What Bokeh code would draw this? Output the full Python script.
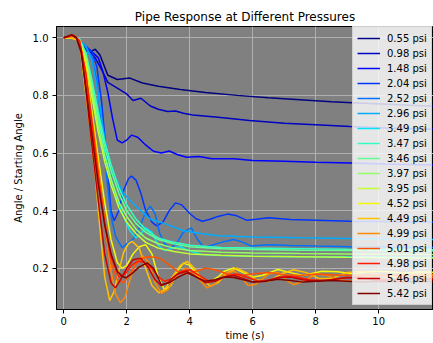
from bokeh.plotting import figure
from bokeh.models import Legend, LegendItem, FixedTicker
from bokeh.embed import file_html
from bokeh.resources import INLINE

# ---------------- data ----------------
pressure_labels = ["0.55 psi", "0.98 psi", "1.48 psi", "2.04 psi", "2.52 psi", "2.96 psi",
                   "3.49 psi", "3.47 psi", "3.46 psi", "3.97 psi", "3.95 psi", "4.52 psi",
                   "4.49 psi", "4.99 psi", "5.01 psi", "4.98 psi", "5.46 psi", "5.42 psi"]

x_ticks = [0, 2, 4, 6, 8, 10]
y_ticks = [0.2, 0.4, 0.6, 0.8, 1.0]
y_tick_labels = ["0.2", "0.4", "0.6", "0.8", "1.0"]

t_055 = [0, 0.3, 0.5, 0.7, 0.85, 1.0, 1.15, 1.4, 1.7, 2.1, 2.5, 3.0, 3.7, 4.5, 5.5, 6.5, 7.5, 8.5, 9.5, 10.5, 11.8]
v_055 = [1.0, 1.0, 0.99, 0.955, 0.952, 0.96, 0.94, 0.87, 0.855, 0.86, 0.843, 0.832, 0.82, 0.81, 0.8, 0.792, 0.785, 0.778, 0.773, 0.768, 0.762]

t_098 = [0, 0.3, 0.5, 0.7, 0.85, 1.0, 1.2, 1.4, 1.7, 2.0, 2.2, 2.45, 2.75, 3.0, 3.3, 3.55, 3.8, 4.1, 4.9, 5.9, 7.0, 8.0, 9.1, 10.2, 11.8]
v_098 = [1.0, 1.0, 0.99, 0.96, 0.95, 0.93, 0.89, 0.845, 0.825, 0.805, 0.782, 0.79, 0.763, 0.752, 0.744, 0.746, 0.738, 0.732, 0.724, 0.713, 0.703, 0.698, 0.692, 0.687, 0.682]

t_148 = [0, 0.3, 0.5, 0.7, 0.9, 1.1, 1.25, 1.4, 1.55, 1.7, 1.85, 2.0, 2.15, 2.35, 2.6, 2.85, 3.1, 3.35, 3.6, 3.9, 4.3, 4.7, 5.4, 6.0, 7.0, 8.0, 9.1, 10.2, 11.8]
v_148 = [1.0, 1.0, 0.99, 0.97, 0.95, 0.93, 0.88, 0.81, 0.72, 0.645, 0.635, 0.645, 0.662, 0.655, 0.628, 0.606, 0.6, 0.607, 0.595, 0.585, 0.588, 0.58, 0.58, 0.574, 0.571, 0.568, 0.565, 0.562, 0.558]

t_204 = [0, 0.3, 0.5, 0.7, 0.9, 1.05, 1.2, 1.35, 1.5, 1.6, 1.75, 1.9, 2.05, 2.15, 2.3, 2.45, 2.6, 2.8, 2.95, 3.15, 3.35, 3.55, 3.75, 4.0, 4.2, 4.4, 4.65, 4.9, 5.2, 5.5, 5.8, 6.1, 6.5, 7.2, 8.0, 9.1, 10.2, 11.8]
v_204 = [1.0, 1.0, 0.99, 0.97, 0.95, 0.9, 0.78, 0.6, 0.4, 0.365, 0.4, 0.47, 0.51, 0.52, 0.505, 0.46, 0.4, 0.36, 0.347, 0.36, 0.4, 0.427, 0.42, 0.39, 0.372, 0.363, 0.37, 0.38, 0.388, 0.382, 0.367, 0.37, 0.375, 0.369, 0.367, 0.363, 0.362, 0.36]

t_252 = [0, 0.3, 0.5, 0.7, 0.9, 1.05, 1.2, 1.35, 1.5, 1.65, 1.85, 2.0, 2.2, 2.4, 2.6, 2.75, 2.9, 3.05, 3.2, 3.4, 3.6, 3.8, 4.05, 4.25, 4.45, 4.7, 5.0, 5.4, 5.7, 5.95, 6.25, 6.6, 7.2, 8.0, 9.1, 10.2, 11.8]
v_252 = [1.0, 1.0, 0.99, 0.97, 0.93, 0.85, 0.7, 0.53, 0.38, 0.31, 0.272, 0.285, 0.3, 0.34, 0.395, 0.415, 0.39, 0.32, 0.285, 0.27, 0.29, 0.325, 0.34, 0.3, 0.272, 0.28, 0.29, 0.3, 0.29, 0.277, 0.28, 0.282, 0.279, 0.277, 0.275, 0.274, 0.272]

t_296 = [0, 0.3, 0.5, 0.7, 0.9, 1.1, 1.3, 1.45, 1.6, 1.9, 2.2, 2.45, 2.75, 3.2, 3.8, 4.4, 4.9, 6.0, 7.5, 9.1, 10.5, 11.8]
v_296 = [1.0, 1.0, 0.99, 0.97, 0.92, 0.8, 0.65, 0.57, 0.52, 0.46, 0.425, 0.4, 0.37, 0.355, 0.33, 0.32, 0.313, 0.309, 0.306, 0.303, 0.301, 0.3]

t_349 = [0, 0.3, 0.5, 0.7, 0.9, 1.1, 1.3, 1.5, 1.7, 1.9, 2.1, 2.3, 2.45, 2.6, 2.8, 3.0, 3.2, 3.45, 3.7, 4.0, 4.4, 5.0, 6.0, 7.5, 9.0, 10.5, 11.8]
v_349 = [1.0, 1.0, 0.995, 0.94, 0.83, 0.71, 0.6, 0.51, 0.44, 0.38, 0.33, 0.305, 0.32, 0.34, 0.325, 0.28, 0.262, 0.27, 0.275, 0.26, 0.248, 0.244, 0.242, 0.24, 0.24, 0.239, 0.238]

t_347 = [0, 0.3, 0.5, 0.7, 0.9, 1.1, 1.3, 1.5, 1.75, 2.0, 2.3, 2.6, 3.0, 3.5, 4.0, 5.0, 6.0, 7.5, 9.0, 10.5, 11.8]
v_347 = [1.0, 1.0, 0.995, 0.95, 0.85, 0.74, 0.64, 0.56, 0.48, 0.42, 0.37, 0.335, 0.305, 0.29, 0.28, 0.272, 0.27, 0.268, 0.266, 0.265, 0.264]

t_346 = [0, 0.3, 0.5, 0.7, 0.9, 1.1, 1.3, 1.5, 1.75, 2.0, 2.3, 2.6, 3.0, 3.5, 4.0, 5.0, 6.0, 7.5, 9.0, 10.5, 11.8]
v_346 = [1.0, 1.0, 0.995, 0.94, 0.83, 0.72, 0.62, 0.54, 0.46, 0.40, 0.355, 0.325, 0.3, 0.285, 0.275, 0.268, 0.265, 0.263, 0.262, 0.261, 0.26]

t_397 = [0, 0.3, 0.5, 0.7, 0.9, 1.1, 1.3, 1.5, 1.75, 2.0, 2.3, 2.6, 3.0, 3.5, 4.0, 5.0, 6.0, 7.5, 9.0, 10.5, 11.8]
v_397 = [1.0, 1.0, 0.99, 0.93, 0.81, 0.69, 0.59, 0.51, 0.43, 0.38, 0.335, 0.305, 0.285, 0.27, 0.262, 0.256, 0.253, 0.251, 0.25, 0.249, 0.248]

t_395 = [0, 0.3, 0.5, 0.7, 0.9, 1.1, 1.3, 1.5, 1.75, 2.0, 2.3, 2.6, 3.0, 3.5, 4.0, 5.0, 6.0, 7.5, 9.0, 10.5, 11.8]
v_395 = [1.0, 1.0, 0.99, 0.92, 0.79, 0.67, 0.57, 0.49, 0.41, 0.36, 0.32, 0.29, 0.27, 0.258, 0.25, 0.245, 0.242, 0.24, 0.238, 0.237, 0.236]

t_452 = [0, 0.3, 0.5, 0.7, 0.9, 1.1, 1.3, 1.5, 1.7, 1.85, 2.0, 2.2, 2.4, 2.6, 2.8, 3.0, 3.2, 3.4, 3.6, 3.8, 4.0, 4.3, 4.6, 4.9, 5.1, 5.4, 5.7, 6.0, 6.3, 6.8, 7.2, 7.6, 8.2, 8.7, 9.2, 9.8, 10.3, 10.8, 11.3, 11.8]
v_452 = [1.0, 1.0, 0.99, 0.9, 0.74, 0.58, 0.43, 0.3, 0.22, 0.2, 0.21, 0.25, 0.275, 0.282, 0.25, 0.17, 0.125, 0.14, 0.19, 0.218, 0.21, 0.17, 0.15, 0.17, 0.19, 0.201, 0.185, 0.17, 0.175, 0.196, 0.185, 0.175, 0.19, 0.188, 0.18, 0.19, 0.188, 0.183, 0.188, 0.186]

t_449 = [0, 0.2, 0.35, 0.5, 0.65, 0.83, 1.0, 1.14, 1.3, 1.46, 1.6, 1.75, 1.9, 2.05, 2.17, 2.4, 2.6, 2.8, 3.02, 3.2, 3.45, 3.7, 3.92, 4.15, 4.4, 4.66, 4.9, 5.2, 5.5, 5.8, 6.1, 6.5, 6.9, 7.3, 7.7, 8.1, 8.5, 9.0, 9.5, 10.0, 10.5, 11.0, 11.8]
v_449 = [1.0, 1.0, 0.995, 0.99, 0.85, 0.69, 0.52, 0.35, 0.17, 0.088, 0.12, 0.19, 0.255, 0.285, 0.294, 0.27, 0.2, 0.14, 0.115, 0.125, 0.17, 0.21, 0.224, 0.2, 0.16, 0.138, 0.15, 0.185, 0.2, 0.185, 0.16, 0.155, 0.18, 0.195, 0.185, 0.165, 0.165, 0.185, 0.19, 0.178, 0.17, 0.18, 0.178]

t_499 = [0, 0.3, 0.5, 0.7, 0.9, 1.1, 1.3, 1.5, 1.65, 1.8, 1.95, 2.1, 2.3, 2.5, 2.7, 2.9, 3.1, 3.3, 3.55, 3.85, 4.1, 4.35, 4.55, 4.8, 5.1, 5.4, 5.6, 5.85, 6.1, 6.5, 6.8, 7.05, 7.3, 7.6, 8.0, 8.4, 8.7, 9.1, 9.5, 10.0, 10.5, 11.0, 11.8]
v_499 = [1.0, 1.005, 0.99, 0.88, 0.72, 0.55, 0.36, 0.19, 0.11, 0.08, 0.1, 0.16, 0.22, 0.245, 0.22, 0.15, 0.113, 0.125, 0.17, 0.2, 0.19, 0.155, 0.132, 0.145, 0.18, 0.19, 0.175, 0.14, 0.145, 0.18, 0.185, 0.16, 0.143, 0.155, 0.18, 0.175, 0.16, 0.155, 0.17, 0.175, 0.165, 0.168, 0.17]

t_501 = [0, 0.3, 0.5, 0.7, 0.9, 1.1, 1.3, 1.5, 1.7, 1.9, 2.1, 2.3, 2.5, 2.7, 2.9, 3.1, 3.3, 3.6, 3.9, 4.2, 4.5, 4.8, 5.2, 5.6, 6.0, 6.5, 7.0, 7.5, 8.0, 8.5, 9.0, 9.5, 10.0, 10.5, 11.0, 11.8]
v_501 = [1.0, 1.005, 0.99, 0.87, 0.7, 0.52, 0.35, 0.22, 0.16, 0.15, 0.18, 0.215, 0.235, 0.24, 0.238, 0.232, 0.215, 0.19, 0.18, 0.19, 0.2, 0.195, 0.18, 0.175, 0.18, 0.185, 0.178, 0.175, 0.18, 0.178, 0.175, 0.178, 0.176, 0.177, 0.176, 0.176]

t_498 = [0, 0.3, 0.5, 0.7, 0.9, 1.1, 1.3, 1.5, 1.75, 1.95, 2.15, 2.35, 2.55, 2.8, 3.0, 3.2, 3.45, 3.75, 4.0, 4.3, 4.6, 4.9, 5.2, 5.5, 5.8, 6.2, 6.6, 7.0, 7.4, 7.8, 8.3, 8.8, 9.3, 9.8, 10.3, 10.8, 11.3, 11.8]
v_498 = [1.0, 1.01, 0.99, 0.88, 0.7, 0.52, 0.36, 0.24, 0.17, 0.18, 0.21, 0.225, 0.22, 0.2, 0.17, 0.155, 0.165, 0.19, 0.195, 0.175, 0.155, 0.16, 0.175, 0.18, 0.17, 0.155, 0.16, 0.172, 0.17, 0.16, 0.158, 0.165, 0.17, 0.165, 0.16, 0.162, 0.165, 0.163]

t_546 = [0, 0.25, 0.4, 0.55, 0.7, 0.9, 1.1, 1.3, 1.5, 1.64, 1.8, 2.0, 2.2, 2.45, 2.7, 2.9, 3.1, 3.3, 3.6, 3.9, 4.2, 4.5, 4.8, 5.1, 5.4, 5.7, 6.0, 6.4, 6.8, 7.2, 7.6, 8.0, 8.5, 9.0, 9.5, 10.0, 10.5, 11.0, 11.8]
v_546 = [1.0, 1.01, 1.0, 0.96, 0.82, 0.62, 0.43, 0.25, 0.15, 0.132, 0.16, 0.2, 0.23, 0.235, 0.2, 0.16, 0.14, 0.15, 0.18, 0.19, 0.17, 0.15, 0.155, 0.17, 0.175, 0.165, 0.152, 0.155, 0.168, 0.17, 0.16, 0.155, 0.16, 0.168, 0.165, 0.158, 0.16, 0.165, 0.163]

t_542 = [0, 0.25, 0.4, 0.55, 0.7, 0.9, 1.1, 1.3, 1.5, 1.7, 1.85, 1.96, 2.15, 2.4, 2.65, 2.85, 3.1, 3.35, 3.65, 3.92, 4.2, 4.5, 4.8, 5.1, 5.4, 5.7, 6.0, 6.4, 6.8, 7.2, 7.6, 8.0, 8.5, 9.0, 9.5, 10.0, 10.5, 11.0, 11.8]
v_542 = [1.0, 1.01, 1.0, 0.95, 0.83, 0.66, 0.49, 0.35, 0.25, 0.19, 0.172, 0.167, 0.18, 0.205, 0.219, 0.2, 0.143, 0.15, 0.17, 0.184, 0.17, 0.155, 0.16, 0.17, 0.168, 0.16, 0.152, 0.155, 0.162, 0.158, 0.152, 0.155, 0.158, 0.155, 0.152, 0.155, 0.154, 0.153, 0.154]

series_t = [t_055, t_098, t_148, t_204, t_252, t_296, t_349, t_347, t_346,
            t_397, t_395, t_452, t_449, t_499, t_501, t_498, t_546, t_542]
series_v = [v_055, v_098, v_148, v_204, v_252, v_296, v_349, v_347, v_346,
            v_397, v_395, v_452, v_449, v_499, v_501, v_498, v_546, v_542]

# jet colormap sampled at 18 points
colors = ["#000080", "#0000c4", "#0000ff", "#0034ff", "#0070ff", "#00acff",
          "#02e8f4", "#33ffc4", "#63ff94", "#94ff63", "#c4ff33", "#f4f802",
          "#ffc100", "#ff8900", "#ff5200", "#ff1a00", "#c40000", "#800000"]

FONT = "DejaVu Sans"

p = figure(width=433, height=343, x_range=(-0.23, 11.74), y_range=(0.057, 1.039),
           output_backend="svg", toolbar_location=None,
           min_border_left=56, min_border_right=0, min_border_top=26, min_border_bottom=33,
           background_fill_color="#808080", border_fill_color="white",
           title="Pipe Response at Different Pressures")

p.title.text_font = FONT
p.title.text_font_size = "12px"
p.title.text_font_style = "normal"
p.title.align = "center"
p.title.text_color = "black"
p.title.standoff = 5

p.outline_line_color = "black"
p.outline_line_width = 1

p.xaxis.ticker = FixedTicker(ticks=x_ticks)
p.yaxis.ticker = FixedTicker(ticks=y_ticks)
p.yaxis.major_label_overrides = {t: l for t, l in zip(y_ticks, y_tick_labels)}

for ax in (p.xaxis[0], p.yaxis[0]):
    ax.major_label_text_font = FONT
    ax.major_label_text_font_size = "10px"
    ax.major_label_text_color = "black"
    ax.axis_label_text_font = FONT
    ax.axis_label_text_font_size = "10px"
    ax.axis_label_text_font_style = "normal"
    ax.axis_label_text_color = "black"
    ax.minor_tick_line_color = None
    ax.major_tick_in = 0
    ax.major_tick_out = 4
    ax.major_tick_line_color = "black"
    ax.axis_line_color = "black"

p.xaxis.axis_label = "time (s)"
p.yaxis.axis_label = "Angle / Starting Angle"
p.xaxis.major_label_standoff = 3
p.xaxis.axis_label_standoff = 2
p.yaxis.major_label_standoff = 4
p.yaxis.axis_label_standoff = 6

p.grid.grid_line_color = "#b0b0b0"
p.grid.grid_line_width = 1

items = []
for lab, tt, vv, c in zip(pressure_labels, series_t, series_v, colors):
    r = p.line(tt, vv, line_color=c, line_width=1.5)
    items.append(LegendItem(label=lab, renderers=[r]))

legend = Legend(items=items, location=(296, 4),
                label_text_font=FONT, label_text_font_size="10px", label_text_color="black",
                glyph_width=23, glyph_height=14, label_height=14, label_standoff=7,
                spacing=1, padding=4, margin=0,
                background_fill_color="white", background_fill_alpha=0.8,
                border_line_color="#cccccc", border_line_alpha=0.8, border_line_width=1)
p.add_layout(legend)

open("out.html", "w").write(file_html(p, INLINE))
